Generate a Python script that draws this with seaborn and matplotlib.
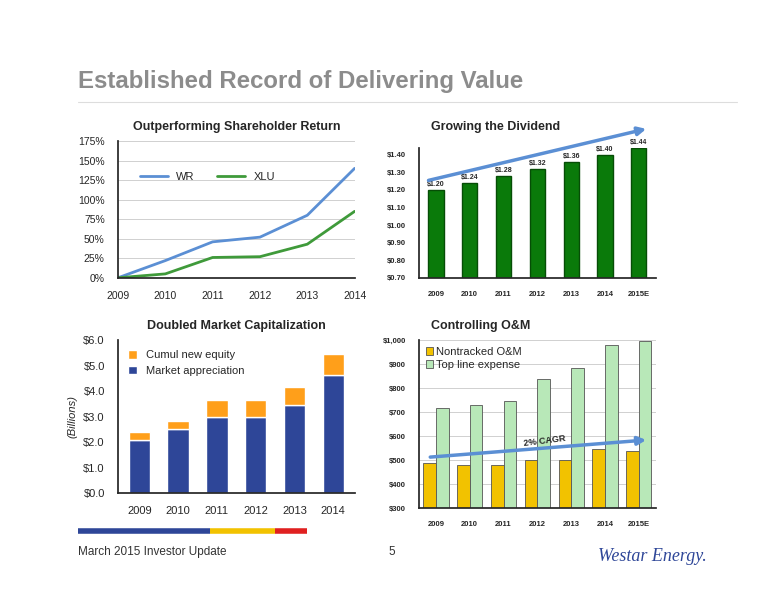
import matplotlib
matplotlib.use('Agg')
import matplotlib.pyplot as plt
import seaborn as sns
import numpy as np
import pandas as pd

sns.set_theme(style="white")
plt.rcParams['font.family'] = ['Liberation Sans', 'DejaVu Sans']

tsr_years = [2009, 2010, 2011, 2012, 2013, 2014]
wr_return = [0, 22, 46, 52, 80, 140]
xlu_return = [0, 5, 26, 27, 43, 85]

div_years = ["2009", "2010", "2011", "2012", "2013", "2014", "2015E"]
dividend = [1.20, 1.24, 1.28, 1.32, 1.36, 1.40, 1.44]

cap_years = ["2009", "2010", "2011", "2012", "2013", "2014"]
market_appreciation = [2.1, 2.5, 3.0, 3.0, 3.45, 4.65]
cumul_new_equity = [0.3, 0.35, 0.65, 0.65, 0.7, 0.8]

om_years = ["2009", "2010", "2011", "2012", "2013", "2014", "2015E"]
nontracked_om = [490, 482, 478, 500, 500, 546, 540]
top_line_expense = [718, 730, 745, 840, 885, 978, 998]

fig = plt.figure(figsize=(7.76, 6), dpi=100)
fig.text(0.1, 0.853, "Established Record of Delivering Value", fontsize=17.3,
         fontweight='bold', color='#8c8c8c')
fig.add_artist(plt.Line2D([0.1, 0.95], [0.83, 0.83], color='#dddddd', lw=0.8))

# Shareholder return
ax1 = fig.add_axes([0.152, 0.537, 0.305, 0.228])
tsr = pd.DataFrame({"year": tsr_years * 2, "ret": wr_return + xlu_return,
                    "series": ["WR"] * 6 + ["XLU"] * 6})
sns.lineplot(data=tsr, x="year", y="ret", hue="series", ax=ax1,
             palette=["#5b8fd4", "#3f9a3a"], lw=2)
ax1.set_xlim(2009, 2014); ax1.set_ylim(0, 175)
ax1.set_yticks(range(0, 176, 25))
ax1.set_yticklabels([f"{v}%" for v in range(0, 176, 25)])
ax1.yaxis.grid(True, color='#d0d0d0', lw=0.7)
ax1.set_xlabel(""); ax1.set_ylabel("")
ax1.legend(title=None, loc='upper left', bbox_to_anchor=(0.05, 0.85), ncol=2,
           frameon=False, fontsize=8, handlelength=2.5)
ax1.tick_params(labelsize=7.5)
for s in ['top', 'right']:
    ax1.spines[s].set_visible(False)
ax1.set_title("Outperforming Shareholder Return", fontsize=9, fontweight='bold', pad=8)

# Dividend
ax2 = fig.add_axes([0.54, 0.537, 0.305, 0.217])
sns.barplot(x=div_years, y=dividend, color='#0a7a0a', ax=ax2, width=0.45,
            edgecolor='#064d06', saturation=1)
ax2.set_ylim(0.70, 1.44)
ax2.set_yticks(np.arange(0.7, 1.41, 0.1))
ax2.set_yticklabels([f"${v:.2f}" for v in np.arange(0.7, 1.41, 0.1)])
for i, v in enumerate(dividend):
    ax2.text(i, v + 0.01, f"${v:.2f}", ha='center', va='bottom', fontsize=5,
             fontweight='bold', clip_on=False)
ax2.tick_params(labelsize=5.5)
for lab in ax2.get_xticklabels() + ax2.get_yticklabels():
    lab.set_fontweight('bold')
for s in ['top', 'right']:
    ax2.spines[s].set_visible(False)
ax2.annotate("", xy=(6.3, 1.55), xytext=(-0.3, 1.25), annotation_clip=False,
             arrowprops=dict(arrowstyle='-|>', color='#5b8fd4', lw=2.5))
ax2.set_title("Growing the Dividend", fontsize=9, fontweight='bold', pad=13, loc='left', x=0.05)

# Market cap
ax3 = fig.add_axes([0.152, 0.178, 0.305, 0.255])
x3 = np.arange(len(cap_years))
sns.barplot(x=cap_years, y=market_appreciation, color='#2e4698', ax=ax3, width=0.55,
            saturation=1, label="Market appreciation")
ax3.bar(x3, cumul_new_equity, bottom=market_appreciation, width=0.55, color='#ff9f1a',
        label="Cumul new equity")
ax3.set_ylim(0, 6)
ax3.set_yticks(range(0, 7))
ax3.set_yticklabels([f"${v:.1f}" for v in range(0, 7)])
ax3.set_ylabel("(Billions)", fontsize=8, style='italic')
ax3.tick_params(labelsize=8)
h, l = ax3.get_legend_handles_labels()
ax3.legend(h[::-1], l[::-1], loc='upper left', frameon=False, fontsize=8,
           handlelength=0.8, handleheight=0.8)
for s in ['top', 'right']:
    ax3.spines[s].set_visible(False)
ax3.set_title("Doubled Market Capitalization", fontsize=9, fontweight='bold', pad=8)

# O&M
ax4 = fig.add_axes([0.54, 0.153, 0.305, 0.28])
om = pd.DataFrame({"year": om_years * 2, "val": nontracked_om + top_line_expense,
                   "series": ["Nontracked O&M"] * 7 + ["Top line expense"] * 7})
sns.barplot(data=om, x="year", y="val", hue="series", ax=ax4, saturation=1,
            palette=["#f2c200", "#b8e8b8"], edgecolor='#555555', linewidth=0.6, width=0.75)
ax4.set_ylim(300, 1000)
ax4.set_yticks(range(300, 1001, 100))
ax4.set_yticklabels([f"${v:,}" for v in range(300, 1001, 100)])
ax4.yaxis.grid(True, color='#d0d0d0', lw=0.7)
ax4.set_axisbelow(True)
ax4.set_xlabel(""); ax4.set_ylabel("")
ax4.tick_params(labelsize=5.5)
for lab in ax4.get_xticklabels() + ax4.get_yticklabels():
    lab.set_fontweight('bold')
ax4.legend(title=None, loc='upper left', frameon=False, fontsize=8,
           handlelength=0.7, handleheight=0.7, borderpad=0.1, labelspacing=0.3,
           handletextpad=0.2)
for s in ['top', 'right']:
    ax4.spines[s].set_visible(False)
ax4.annotate("", xy=(6.3, 585), xytext=(-0.25, 512),
             arrowprops=dict(arrowstyle='-|>', color='#5b8fd4', lw=2.5))
ax4.text(3.2, 560, "2% CAGR", fontsize=6.5, fontweight='bold', rotation=7, ha='center')
ax4.set_title("Controlling O&M", fontsize=9, fontweight='bold', pad=8, loc='left', x=0.05)

# footer
for x0, x1, c in [(0.1, 0.27, '#2e4698'), (0.27, 0.355, '#f2c200'), (0.355, 0.395, '#e02020')]:
    fig.add_artist(plt.Line2D([x0, x1], [0.115, 0.115], color=c, lw=4,
                              solid_capstyle='butt'))
fig.text(0.1, 0.075, "March 2015 Investor Update", fontsize=8.5, color='#333333')
fig.text(0.5, 0.075, "5", fontsize=8.5, color='#333333')
fig.text(0.77, 0.065, "Westar Energy.", fontsize=13, color='#2e4698', style='italic',
         family='Liberation Serif')

fig.savefig("out.png", dpi=100)
